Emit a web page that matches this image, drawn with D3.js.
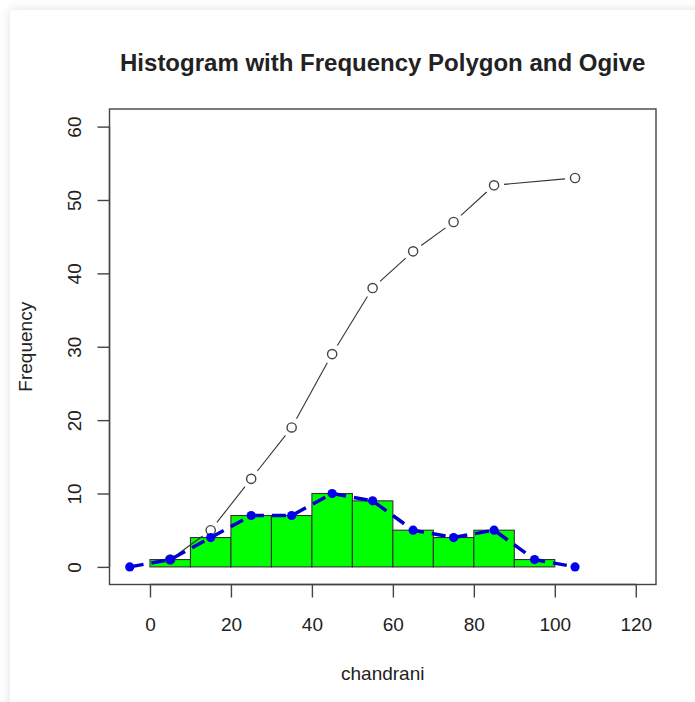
<!DOCTYPE html>
<html><head><meta charset="utf-8">
<script src="https://cdn.jsdelivr.net/npm/d3@7"></script>
<style>
html,body{margin:0;padding:0;background:#fff;}
#card{position:absolute;left:10px;top:10px;width:700px;height:700px;background:#fff;box-shadow:0 0 10px rgba(0,0,0,0.13);}
svg{position:absolute;left:0;top:0;}
text{font-family:"Liberation Sans",Arial,sans-serif;fill:#222;}
</style></head>
<body><div id="card"></div>
<script>
// Histogram bins (class intervals) and frequencies
const binStarts = [0,10,20,30,40,50,60,70,80,90];
const binWidth = 10;
const freqs = [1,4,7,7,10,9,5,4,5,1];
// Frequency polygon (midpoints, padded with empty classes)
const polyX = [-5,5,15,25,35,45,55,65,75,85,95,105];
const polyY = [0,1,4,7,7,10,9,5,4,5,1,0];
// Ogive (cumulative frequency)
const ogiveX = [5,15,25,35,45,55,65,75,85,105];
const ogiveY = [1,5,12,19,29,38,43,47,52,53];
// Axis ticks
const xTicks = [0,20,40,60,80,100,120];
const yTicks = [0,10,20,30,40,50,60];
const title = "Histogram with Frequency Polygon and Ogive";
const xLabel = "chandrani";
const yLabel = "Frequency";

const W = 695, H = 702;
const L = 109.5, R = 656, T = 109, B = 584.5;
const svg = d3.select("body").append("svg").attr("width", W).attr("height", H);
const x = d3.scaleLinear().domain([-10,125]).range([L,R]);
const y = d3.scaleLinear().domain([-2.4,62.4]).range([B,T]);

// bars
svg.append("g").selectAll("rect").data(binStarts).join("rect")
  .attr("x", d => x(d)).attr("width", d => x(d+binWidth)-x(d))
  .attr("y", (d,i) => y(freqs[i])).attr("height", (d,i) => y(0)-y(freqs[i]))
  .attr("fill", "#00ff00").attr("stroke", "#333").attr("stroke-width", 1.1);

// ogive: segments with gaps around points
const og = ogiveX.map((d,i)=>[x(d), y(ogiveY[i])]);
const gap = 10;
const segs = [];
for (let i=0;i<og.length-1;i++){
  const [x0,y0]=og[i],[x1,y1]=og[i+1];
  const len=Math.hypot(x1-x0,y1-y0);
  if (len>2*gap){
    const ux=(x1-x0)/len, uy=(y1-y0)/len;
    segs.push([x0+ux*gap,y0+uy*gap,x1-ux*gap,y1-uy*gap]);
  }
}
svg.append("g").selectAll("line").data(segs).join("line")
  .attr("x1",d=>d[0]).attr("y1",d=>d[1]).attr("x2",d=>d[2]).attr("y2",d=>d[3])
  .attr("stroke","#333").attr("stroke-width",1.1);
svg.append("g").selectAll("circle").data(og).join("circle")
  .attr("cx",d=>d[0]).attr("cy",d=>d[1]).attr("r",4.6)
  .attr("fill","#fff").attr("stroke","#444").attr("stroke-width",1.4);

// frequency polygon
const line = d3.line().x((d,i)=>x(polyX[i])).y(d=>y(d));
svg.append("path").datum(polyY).attr("d", line)
  .attr("fill","none").attr("stroke","#0000cc").attr("stroke-width",3.5)
  .attr("stroke-dasharray","14,8");
svg.append("g").selectAll("circle").data(polyY).join("circle")
  .attr("cx",(d,i)=>x(polyX[i])).attr("cy",d=>y(d)).attr("r",4.6)
  .attr("fill","#0000ee");

// box
svg.append("rect").attr("x",L).attr("y",T).attr("width",R-L).attr("height",B-T)
  .attr("fill","none").attr("stroke","#444").attr("stroke-width",1.4);

const FS = 19;
// x axis
const xa = d3.axisBottom(x).tickValues(xTicks).tickSize(13).tickPadding(20).tickFormat(d3.format("d"));
const gx = svg.append("g").attr("transform",`translate(0,${B})`).call(xa);
gx.select(".domain").attr("stroke","#444").attr("stroke-width",1.4).attr("d",`M${x(0)},0H${x(120)}`);
gx.selectAll(".tick line").attr("stroke","#444").attr("stroke-width",1.4);
gx.selectAll(".tick text").attr("font-size",FS).attr("fill","#222").style("font-family","Liberation Sans, Arial, sans-serif");

// y axis
const ya = d3.axisLeft(y).tickValues(yTicks).tickSize(12).tickPadding(0).tickFormat(d3.format("d"));
const gy = svg.append("g").attr("transform",`translate(${L},0)`).call(ya);
gy.select(".domain").attr("stroke","#444").attr("stroke-width",1.4).attr("d",`M0,${y(0)}V${y(60)}`);
gy.selectAll(".tick line").attr("stroke","#444").attr("stroke-width",1.4);
gy.selectAll(".tick text").attr("font-size",FS).attr("fill","#222")
  .style("font-family","Liberation Sans, Arial, sans-serif")
  .attr("x",0).attr("text-anchor","middle")
  .attr("transform","translate(-35,0) rotate(-90)").attr("dy","0.35em");

// titles
svg.append("text").attr("x",(L+R)/2).attr("y",71).attr("text-anchor","middle")
  .attr("font-size",24).attr("font-weight","bold").attr("fill","#111").text(title);
svg.append("text").attr("x",(L+R)/2).attr("y",680).attr("text-anchor","middle")
  .attr("font-size",FS).text(xLabel);
svg.append("text").attr("transform",`translate(32,${(T+B)/2}) rotate(-90)`).attr("text-anchor","middle")
  .attr("font-size",FS).text(yLabel);
</script></body></html>
